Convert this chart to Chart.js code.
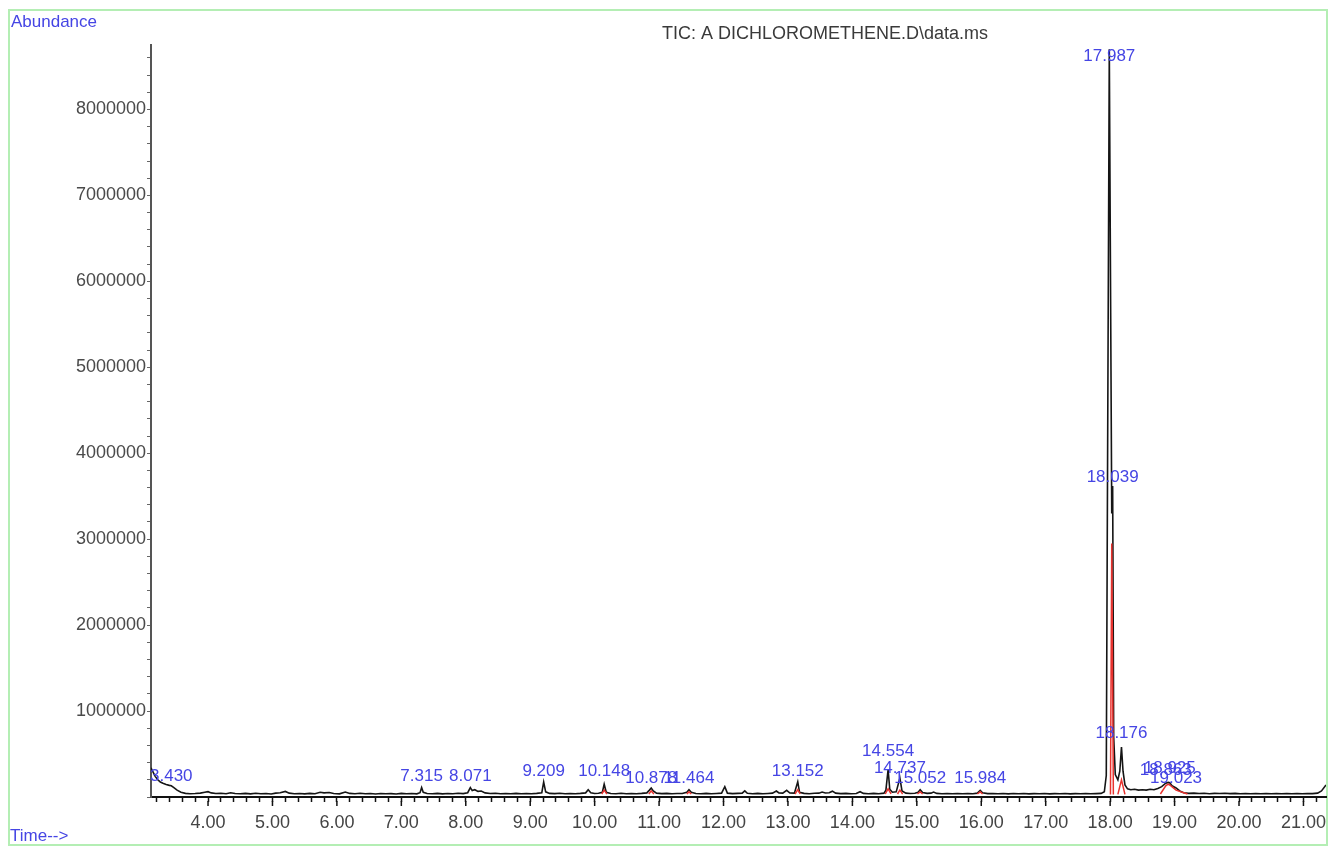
<!DOCTYPE html>
<html>
<head>
<meta charset="utf-8">
<title>TIC chromatogram</title>
<script src="https://cdn.jsdelivr.net/npm/chart.js@4.4.1/dist/chart.umd.min.js"></script>
<style>
  html, body { margin: 0; padding: 0; background: #fff; }
  #wrap { position: relative; width: 1330px; height: 848px; }
</style>
</head>
<body>
<div id="wrap"><canvas id="tic" width="1330" height="848"></canvas></div>
<script>
// retention time (min) / abundance
const ticTime = [
  3.115, 3.14, 3.18, 3.22, 3.26, 3.30, 3.35, 3.40, 3.43, 3.47, 3.52, 3.58, 3.65, 3.72, 3.80, 3.88, 3.95,
  4.00, 4.05, 4.12, 4.20, 4.28, 4.35, 4.42, 4.50, 4.58, 4.66, 4.74, 4.82, 4.90, 4.98,
  5.05, 5.12, 5.20, 5.26, 5.34, 5.42, 5.50, 5.58, 5.66, 5.74, 5.80, 5.88, 5.95,
  6.04, 6.13, 6.20, 6.28, 6.36, 6.44, 6.52, 6.60, 6.68, 6.76, 6.84, 6.92,
  7.00, 7.08, 7.16, 7.24, 7.29, 7.315, 7.34, 7.40, 7.48, 7.56, 7.64, 7.72, 7.80, 7.88, 7.96,
  8.03, 8.071, 8.10, 8.14, 8.19, 8.24, 8.30, 8.38, 8.46, 8.54, 8.62, 8.70, 8.78, 8.86, 8.94,
  9.02, 9.10, 9.18, 9.209, 9.24, 9.30, 9.38, 9.46, 9.54, 9.62, 9.70, 9.78, 9.86, 9.90, 9.94,
  10.00, 10.06, 10.12, 10.148, 10.18, 10.25, 10.33, 10.41, 10.49, 10.57, 10.65, 10.73, 10.81, 10.85, 10.878, 10.91, 10.96,
  11.04, 11.12, 11.20, 11.28, 11.36, 11.43, 11.464, 11.50, 11.57, 11.65, 11.73, 11.81, 11.89, 11.97,
  12.02, 12.06, 12.14, 12.22, 12.29, 12.33, 12.37, 12.45, 12.53, 12.61, 12.69, 12.76, 12.82, 12.86, 12.92, 12.98,
  13.03, 13.10, 13.152, 13.18, 13.25, 13.33, 13.41, 13.48, 13.53, 13.58, 13.64, 13.69, 13.74, 13.82, 13.90, 13.98,
  14.06, 14.12, 14.17, 14.25, 14.33, 14.41, 14.49, 14.52, 14.554, 14.58, 14.62, 14.68, 14.737, 14.77, 14.83, 14.90, 14.97,
  15.02, 15.052, 15.09, 15.16, 15.22, 15.26, 15.31, 15.39, 15.47, 15.55, 15.63, 15.71, 15.79, 15.87, 15.94, 15.984,
  16.02, 16.10, 16.18, 16.26, 16.34, 16.42, 16.50, 16.58, 16.66, 16.74, 16.82, 16.90, 16.98,
  17.06, 17.14, 17.22, 17.30, 17.38, 17.46, 17.54, 17.62, 17.70, 17.78, 17.86, 17.91, 17.94, 17.987,
  18.025, 18.039, 18.055, 18.08, 18.12, 18.15, 18.176, 18.20, 18.23, 18.27, 18.32, 18.38, 18.44, 18.50,
  18.56, 18.62, 18.68, 18.74, 18.80, 18.863, 18.90, 18.925, 18.96,
  19.023, 19.08, 19.14, 19.22, 19.30, 19.38, 19.46, 19.54, 19.62, 19.70, 19.78, 19.86, 19.94,
  20.02, 20.10, 20.18, 20.26, 20.34, 20.42, 20.50, 20.58, 20.66, 20.74, 20.82, 20.90, 20.98,
  21.06, 21.14, 21.22, 21.28, 21.35
];
const ticAbundance = [
  340000, 300000, 240000, 200000, 175000, 160000, 145000, 135000, 130000, 110000, 80000, 55000, 42000, 38000, 40000, 45000, 55000,
  62000, 48000, 40000, 43000, 38000, 50000, 41000, 37000, 42000, 36000, 44000, 38000, 40000, 35000,
  45000, 50000, 65000, 45000, 38000, 41000, 36000, 42000, 38000, 55000, 48000, 52000, 40000,
  37000, 58000, 42000, 38000, 44000, 37000, 40000, 35000, 41000, 37000, 39000, 35000,
  42000, 38000, 40000, 37000, 50000, 110000, 55000, 40000, 37000, 42000, 36000, 40000, 37000, 43000, 39000,
  50000, 110000, 75000, 85000, 65000, 70000, 48000, 40000, 44000, 37000, 41000, 38000, 42000, 38000, 40000,
  37000, 42000, 50000, 175000, 60000, 42000, 39000, 43000, 38000, 41000, 38000, 42000, 48000, 85000, 50000,
  40000, 43000, 55000, 150000, 55000, 41000, 38000, 43000, 37000, 41000, 38000, 42000, 48000, 80000, 105000, 70000, 45000,
  39000, 42000, 37000, 41000, 40000, 55000, 85000, 55000, 40000, 38000, 42000, 37000, 41000, 45000,
  120000, 45000, 39000, 42000, 45000, 72000, 44000, 38000, 42000, 37000, 41000, 45000, 70000, 48000, 45000, 78000,
  46000, 45000, 178000, 55000, 42000, 38000, 43000, 45000, 58000, 46000, 50000, 68000, 45000, 39000, 42000, 37000,
  41000, 62000, 42000, 38000, 42000, 38000, 45000, 80000, 320000, 90000, 55000, 60000, 220000, 70000, 45000, 40000, 43000,
  55000, 85000, 52000, 42000, 45000, 58000, 42000, 38000, 41000, 37000, 40000, 37000, 41000, 38000, 45000, 78000,
  50000, 39000, 41000, 37000, 40000, 36000, 40000, 37000, 40000, 36000, 39000, 37000, 40000,
  36000, 39000, 37000, 40000, 36000, 39000, 37000, 40000, 37000, 39000, 42000, 60000, 250000, 8700000,
  3300000, 3620000, 700000, 260000, 200000, 300000, 580000, 300000, 140000, 95000, 85000, 90000, 80000, 85000,
  80000, 90000, 85000, 100000, 120000, 160000, 170000, 165000, 130000,
  105000, 70000, 50000, 42000, 45000, 40000, 43000, 38000, 42000, 40000, 44000, 39000, 42000,
  38000, 41000, 37000, 40000, 38000, 41000, 37000, 40000, 38000, 41000, 37000, 40000, 38000,
  41000, 39000, 45000, 70000, 140000
];

// red integration marks (null = break between peaks)
const intTime = [
  3.20, 3.40, 3.58, null,
  7.28, 7.315, 7.35, null,
  8.03, 8.071, 8.11, null,
  9.17, 9.209, 9.25, null,
  10.11, 10.148, 10.19, null,
  10.84, 10.878, 10.92, null,
  11.43, 11.464, 11.50, null,
  13.11, 13.152, 13.19, null,
  14.51, 14.554, 14.60, null,
  14.70, 14.737, 14.78, null,
  15.01, 15.052, 15.09, null,
  15.94, 15.984, 16.02, null,
  18.005, 18.025, 18.05, null,
  18.12, 18.176, 18.23, null,
  18.78, 18.863, 18.90, 18.925, 19.023, 19.20
];
const intAbundance = [
  190000, 120000, 45000, null,
  35000, 75000, 35000, null,
  35000, 75000, 35000, null,
  35000, 85000, 35000, null,
  35000, 80000, 35000, null,
  35000, 70000, 35000, null,
  35000, 60000, 35000, null,
  35000, 85000, 35000, null,
  35000, 95000, 35000, null,
  35000, 80000, 35000, null,
  35000, 60000, 35000, null,
  35000, 60000, 35000, null,
  30000, 2950000, 30000, null,
  30000, 200000, 30000, null,
  35000, 130000, 150000, 140000, 80000, 35000
];

// peak labels: text, retention time, label height (abundance at text centre)
const peakLabels = ['3.430', '7.315', '8.071', '9.209', '10.148', '10.878', '11.464', '13.152', '14.554',
  '14.737', '15.052', '15.984', '17.987', '18.039', '18.176', '18.863', '18.925', '19.023'];
const peakTimes = [3.430, 7.315, 8.071, 9.209, 10.148, 10.878, 11.464, 13.152, 14.554,
  14.737, 15.052, 15.984, 17.987, 18.039, 18.176, 18.863, 18.925, 19.023];
const peakLabelY = [244000, 244000, 244000, 302000, 302000, 221000, 221000, 302000, 535000,
  337000, 221000, 221000, 8620000, 3720000, 745000, 314000, 337000, 221000];

// axis ranges and tick labels
const xMin = 3.115, xMax = 21.35;
const yMin = 0, yMax = 8750000;
const yTickLabels = ['1000000', '2000000', '3000000', '4000000', '5000000', '6000000', '7000000', '8000000'];
const yMinorStep = 200000;

const FONT = "'Liberation Sans', Arial, sans-serif";
const BLUE = '#4545e4';

function isWhole(v) { return Math.abs(v - Math.round(v)) < 1e-6; }

const ticPoints = ticTime.map((t, i) => ({ x: t, y: ticAbundance[i] }));
const intPoints = intTime.map((t, i) => ({ x: t, y: intAbundance[i] }));

const yTickValues = [];
for (let v = yMin; v <= yMax; v += yMinorStep) yTickValues.push(v);

// frame, title, axis names, peak labels, longer major ticks
const decor = {
  id: 'decor',
  beforeDraw(chart) {
    const ctx = chart.ctx;
    ctx.save();
    ctx.fillStyle = '#fff';
    ctx.fillRect(0, 0, chart.width, chart.height);
    ctx.strokeStyle = '#b4eeb4';
    ctx.lineWidth = 2;
    ctx.strokeRect(9, 10, 1318, 835);
    ctx.restore();
  },
  afterDraw(chart) {
    const ctx = chart.ctx;
    const xs = chart.scales.x, ys = chart.scales.y;
    ctx.save();
    // major ticks on time axis
    ctx.strokeStyle = '#111';
    ctx.lineWidth = 1.5;
    xs.ticks.forEach(tk => {
      if (!isWhole(tk.value)) return;
      const px = xs.getPixelForValue(tk.value);
      ctx.beginPath();
      ctx.moveTo(px, xs.top + 4);
      ctx.lineTo(px, xs.top + 9);
      ctx.stroke();
    });
    // title
    ctx.fillStyle = '#3a3a3a';
    ctx.font = '18px ' + FONT;
    ctx.textAlign = 'center';
    ctx.textBaseline = 'middle';
    ctx.fillText('TIC: A DICHLOROMETHENE.D\\data.ms', 825, 34);
    // axis names
    ctx.fillStyle = BLUE;
    ctx.font = '17px ' + FONT;
    ctx.textAlign = 'left';
    ctx.fillText('Abundance', 11, 22);
    ctx.fillText('Time-->', 10, 836);
    // peak labels
    ctx.textAlign = 'center';
    peakLabels.forEach((txt, i) => {
      ctx.fillText(txt, xs.getPixelForValue(peakTimes[i]), ys.getPixelForValue(peakLabelY[i]));
    });
    ctx.restore();
  }
};

new Chart(document.getElementById('tic'), {
  type: 'line',
  data: {
    datasets: [
      {
        label: 'integration',
        data: intPoints,
        borderColor: '#e8322e',
        borderWidth: 1.5,
        pointRadius: 0,
        tension: 0,
        spanGaps: false
      },
      {
        label: 'TIC',
        data: ticPoints,
        borderColor: '#151515',
        borderWidth: 1.6,
        pointRadius: 0,
        tension: 0
      }
    ]
  },
  options: {
    responsive: false,
    devicePixelRatio: 1,
    animation: false,
    parsing: false,
    layout: { padding: { top: 45, right: 4, left: 0, bottom: 0 } },
    plugins: {
      legend: { display: false },
      title: { display: false },
      tooltip: { enabled: false }
    },
    scales: {
      x: {
        type: 'linear',
        position: 'bottom',
        min: xMin,
        max: xMax,
        border: { display: true, color: '#111', width: 2 },
        grid: { display: true, drawOnChartArea: false, drawTicks: true, tickLength: 5, tickColor: '#111', tickWidth: 1.5 },
        ticks: {
          stepSize: 0.2,
          includeBounds: false,
          autoSkip: false,
          maxRotation: 0,
          minRotation: 0,
          maxTicksLimit: 1000,
          padding: 10,
          color: '#444',
          font: { family: FONT, size: 18 },
          callback: v => isWhole(v) ? v.toFixed(2) : ''
        },
        afterFit(scale) { scale.height = 51; }
      },
      y: {
        type: 'linear',
        min: yMin,
        max: yMax,
        border: { display: true, color: '#555', width: 2 },
        grid: { display: true, drawOnChartArea: false, drawTicks: true, tickLength: 4, tickColor: '#666', tickWidth: 1 },
        afterBuildTicks(scale) {
          scale.ticks = yTickValues.map(v => ({ value: v }));
        },
        ticks: {
          autoSkip: false,
          padding: 1,
          color: '#4a4a4a',
          font: { family: FONT, size: 18 },
          callback: v => {
            const k = Math.round(v / 1000000);
            return (k >= 1 && k <= yTickLabels.length && Math.abs(v - k * 1000000) < 1) ? yTickLabels[k - 1] : '';
          }
        },
        afterFit(scale) { scale.width = 151; }
      }
    }
  },
  plugins: [decor]
});
</script>
</body>
</html>
